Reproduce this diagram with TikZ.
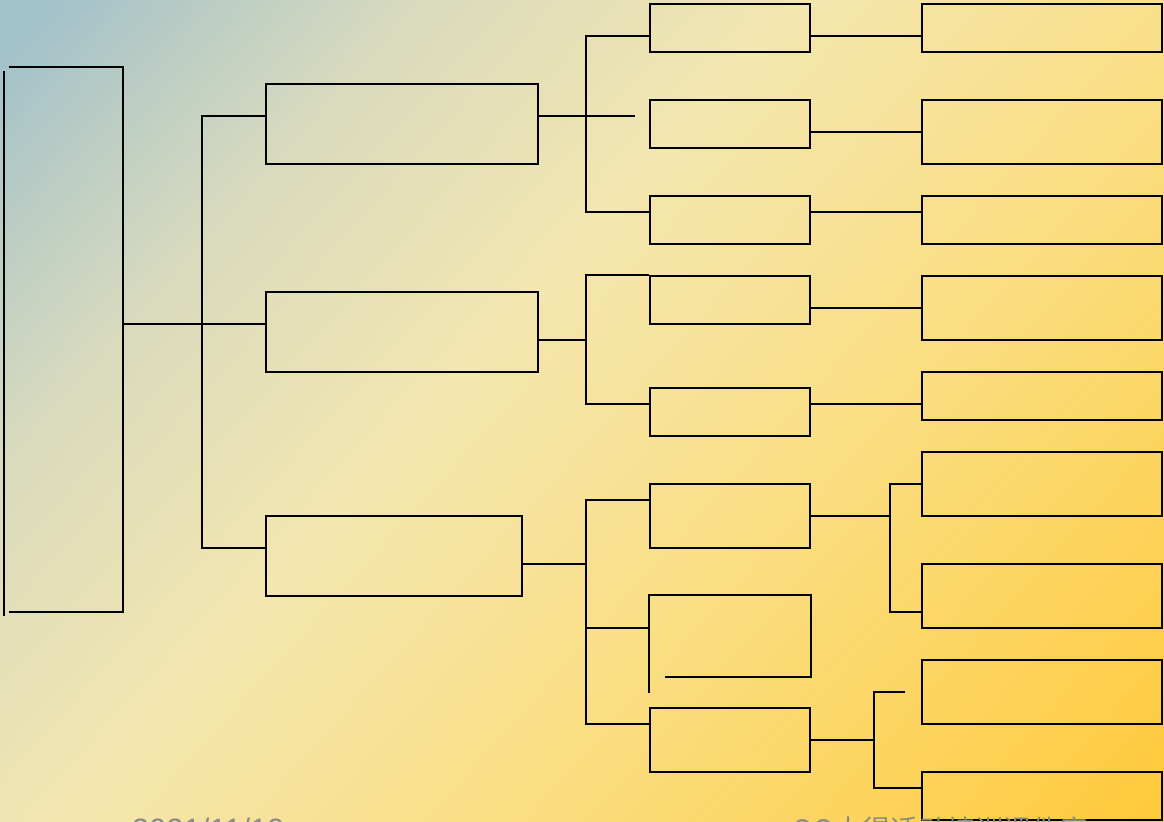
\documentclass[tikz,border=0pt]{standalone}
\usepackage{fontspec}
\setmainfont{Liberation Sans}
\newfontfamily\cjkfont{Noto Sans CJK SC}
\usetikzlibrary{calc}
\definecolor{BgTeal}{RGB}{164,194,201}
\definecolor{BgSage}{RGB}{216,218,190}
\definecolor{BgCream}{RGB}{243,230,176}
\definecolor{BgYellow}{RGB}{250,222,130}
\definecolor{BgGold}{RGB}{255,203,62}
\definecolor{FootGray}{RGB}{138,138,138}
\pgfdeclarehorizontalshading{bgfade}{100bp}{color(0bp)=(BgTeal); color(17bp)=(BgTeal);
  color(30bp)=(BgSage); color(44bp)=(BgCream); color(61bp)=(BgYellow);
  color(84bp)=(BgGold); color(100bp)=(BgGold)}

\begin{document}
\begin{tikzpicture}[x=0.025cm,y=-0.025cm,line width=1.4pt,
  rootbox/.style={minimum width=2.8cm,minimum height=13.575cm,inner sep=0pt},
  topic/.style={draw=black,minimum width=6.8cm,minimum height=2cm,inner sep=0pt},
  subbox/.style={draw=black,minimum width=4cm,minimum height=1.2cm,inner sep=0pt},
  leaf/.style={draw=black,minimum width=6cm,minimum height=1.2cm,inner sep=0pt},
  tall/.style={minimum height=1.6cm},
  footer/.style={text=FootGray,anchor=base west,inner sep=0pt,
                 font=\fontsize{22}{26}\selectfont},
]

%% background
\useasboundingbox (0,0) rectangle (1164,822);
\shade[shading=bgfade,shading angle=-42] (0,0) rectangle (1164,822);

%% root (open on the left)
\node[rootbox] (root) at (66,339.5) {};
\draw (root.north west) -- (root.north east) -- (root.south east) -- (root.south west);
\draw ($(root.north west)+(-5,4)$) -- ($(root.south west)+(-5,4)$);

%% level one
\node[topic] (b1) at (402,124) {};
\node[topic] (b2) at (402,332) {};
\node[topic,minimum width=6.4cm] (b3) at (394,556) {};
\coordinate (j0) at (202,324);
\draw ($(root.east)+(0,-15.5)$) -- ($(b2.west)+(0,-8)$);
\draw ($(b1.west)+(0,-8)$) -| (j0) |- ($(b3.west)+(0,-8)$);

%% level two
\node[subbox] (c1) at (730,28)  {};
\node[subbox] (c2) at (730,124) {};
\node[subbox] (c3) at (730,220) {};
\node[subbox] (c4) at (730,300) {};
\node[subbox] (c5) at (730,412) {};
\node[subbox,tall] (c6) at (730,516) {};
\node[subbox,draw=none,minimum height=2cm] (c7) at (730,636) {};
\node[subbox,tall] (c8) at (730,740) {};
\draw ($(c7.south west)+(0,16)$) -- (c7.north west) -- (c7.north east)
  -- (c7.south east) -- ($(c7.south west)+(16,0)$);

%% level three
\node[leaf]      (d1) at (1042,28)  {};
\node[leaf,tall] (d2) at (1042,132) {};
\node[leaf]      (d3) at (1042,220) {};
\node[leaf,tall] (d4) at (1042,308) {};
\node[leaf]      (d5) at (1042,396) {};
\node[leaf,tall] (d6) at (1042,484) {};
\node[leaf,tall] (d7) at (1042,596) {};
\node[leaf,tall] (d8) at (1042,692) {};
\node[leaf]      (d9) at (1042,796) {};

%% branch one
\coordinate (j1) at (586,116);
\draw ($(b1.east)+(0,-8)$) -- ++(96,0);
\draw ($(c1.west)+(0,8)$) -| (j1) |- ($(c3.west)+(0,-8)$);
\draw ($(c1.east)+(0,8)$) -- ($(d1.west)+(0,8)$);
\draw ($(c2.east)+(0,8)$) -- (d2.west);
\draw ($(c3.east)+(0,-8)$) -- ($(d3.west)+(0,-8)$);

%% branch two
\coordinate (j2) at (586,340);
\draw ($(b2.east)+(0,8)$) -- (j2);
\draw (c4.north west) -| (j2) |- ($(c5.west)+(0,-8)$);
\draw ($(c4.east)+(0,8)$) -- (d4.west);
\draw ($(c5.east)+(0,-8)$) -- ($(d5.west)+(0,8)$);

%% branch three
\coordinate (j3) at (586,564);
\draw ($(b3.east)+(0,8)$) -- (j3);
\draw ($(c6.west)+(0,-16)$) -| (j3) |- ($(c8.west)+(0,-16)$);
\draw ($(c7.west)+(0,-8)$) -- (j3 |- {$(c7.west)+(0,-8)$});
\coordinate (j4) at (890,516);
\draw (c6.east) -- (j4);
\draw (d6.west) -| (j4) |- ($(d7.west)+(0,16)$);
\coordinate (j5) at (874,740);
\draw (c8.east) -- (j5);
\draw ($(d8.west)+(-16,0)$) -| (j5) |- ($(d9.west)+(0,-8)$);

%% footer
\node[footer] (date) at (131,840) {2021/11/19};
\node[footer,font=\cjkfont\fontsize{20}{24}\selectfont] (src) at (792,840) {QQ大得适动培训课件库};

\end{tikzpicture}
\end{document}
